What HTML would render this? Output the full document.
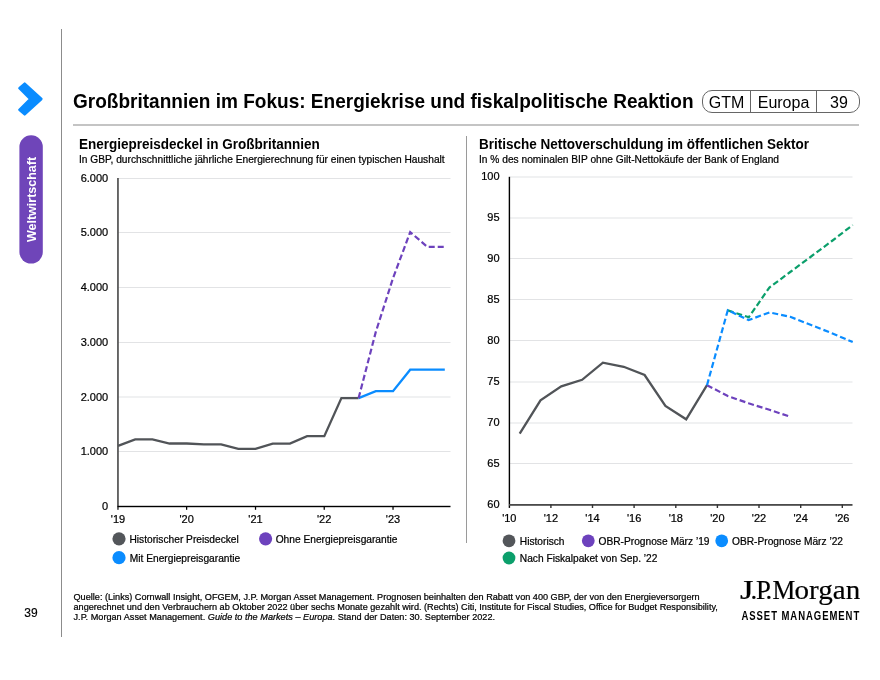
<!DOCTYPE html>
<html><head><meta charset="utf-8">
<style>
html,body{margin:0;padding:0;background:#fff;}
body{width:880px;height:680px;overflow:hidden;position:relative;font-family:"Liberation Sans",sans-serif;}
svg{position:absolute;left:0;top:0;will-change:transform;}
text{font-family:"Liberation Sans",sans-serif;fill:#000;}
.th{stroke:#000;stroke-width:0.22px;}
</style></head><body>
<svg width="880" height="680" viewBox="0 0 880 680">
<!-- left vertical rule -->
<rect x="61" y="29" width="1" height="608" fill="#8c8c8c"/>
<!-- chevron -->
<path d="M19.36 88.26 L24.68 83.61 L41.43 99 L24.68 114.39 L19.36 109.74 L30.1 99 Z" fill="#0a8cff" stroke="#0a8cff" stroke-width="2.4" stroke-linejoin="round"/>
<!-- Weltwirtschaft pill -->
<rect x="19.4" y="135.2" width="23.4" height="128.4" rx="11.7" ry="11.7" fill="#6f45b9"/>
<text transform="translate(35.8,199.5) rotate(-90)" text-anchor="middle" font-size="12.5" font-weight="700" style="fill:#fff">Weltwirtschaft</text>

<!-- Title -->
<text x="73" y="107.6" font-size="19.3" font-weight="700" textLength="620.6" lengthAdjust="spacingAndGlyphs">Großbritannien im Fokus: Energiekrise und fiskalpolitische Reaktion</text>
<!-- GTM pill -->
<rect x="702.5" y="90.5" width="157" height="22" rx="9.5" ry="9.5" fill="none" stroke="#666" stroke-width="1"/>
<rect x="750" y="90.5" width="1" height="22" fill="#666"/>
<rect x="816" y="90.5" width="1" height="22" fill="#666"/>
<text x="726.5" y="107.6" font-size="16" text-anchor="middle">GTM</text>
<text x="783.5" y="107.6" font-size="16" text-anchor="middle">Europa</text>
<text x="839" y="107.6" font-size="16" text-anchor="middle">39</text>
<!-- header rule -->
<rect x="73" y="124" width="786" height="2" fill="#c4c4c4"/>

<!-- separator -->
<rect x="466" y="136" width="1" height="407" fill="#9a9a9a"/>

<!-- LEFT CHART -->
<text x="79" y="148.8" font-size="13.8" font-weight="700" textLength="240.8" lengthAdjust="spacingAndGlyphs">Energiepreisdeckel in Großbritannien</text>
<text x="79" y="162.8" class="th" font-size="10.2">In GBP, durchschnittliche jährliche Energierechnung für einen typischen Haushalt</text>
<g fill="#e2e3e5">
<rect x="118" y="178" width="332.5" height="1"/>
<rect x="118" y="232" width="332.5" height="1"/>
<rect x="118" y="287" width="332.5" height="1"/>
<rect x="118" y="342" width="332.5" height="1"/>
<rect x="118" y="396.5" width="332.5" height="1"/>
<rect x="118" y="451" width="332.5" height="1"/>
</g>
<g class="th" font-size="11" text-anchor="end">
<text x="108.2" y="182">6.000</text>
<text x="108.2" y="236">5.000</text>
<text x="108.2" y="291">4.000</text>
<text x="108.2" y="346">3.000</text>
<text x="108.2" y="401">2.000</text>
<text x="108.2" y="455">1.000</text>
<text x="108.2" y="510">0</text>
</g>
<g class="th" font-size="11" text-anchor="middle">
<text x="118" y="522.8">'19</text>
<text x="186.7" y="522.8">'20</text>
<text x="255.5" y="522.8">'21</text>
<text x="324.2" y="522.8">'22</text>
<text x="393" y="522.8">'23</text>
</g>
<!-- axes -->
<rect x="117.1" y="178" width="1.7" height="331.8" fill="#525252"/>
<rect x="117.5" y="505.8" width="333" height="1.4" fill="#000"/>
<g fill="#000">
<rect x="186" y="506" width="1.25" height="3.8"/>
<rect x="254.9" y="506" width="1.25" height="3.8"/>
<rect x="323.6" y="506" width="1.25" height="3.8"/>
<rect x="392.4" y="506" width="1.25" height="3.8"/>
</g>
<!-- series -->
<polyline fill="none" stroke="#515458" stroke-width="2.3" stroke-linejoin="miter" points="118,445.8 135.2,439.4 152.4,439.4 169.6,443.5 186.75,443.5 203.9,444.3 221.1,444.3 238.3,448.9 255.5,448.9 272.7,443.6 289.9,443.6 307.1,436.1 324.3,436.1 341.4,398.1 358.6,398.1"/>
<polyline fill="none" stroke="#0a8cff" stroke-width="2.3" points="358.6,398.1 375.8,391.2 393,391.2 410.2,369.7 427.4,369.7 444.8,369.7"/>
<polyline fill="none" stroke="#6d42bd" stroke-width="2.2" stroke-dasharray="6 3" points="358.6,398.1 375.8,331.9 393,278.2 410.2,232.1 427.4,246.9 444.6,246.9"/>

<!-- legend left -->
<circle cx="119" cy="538.8" r="6.6" fill="#53565a"/>
<circle cx="119" cy="557.7" r="6.6" fill="#0a8cff"/>
<circle cx="265.6" cy="538.8" r="6.6" fill="#6d42bd"/>
<g class="th" font-size="10.2">
<text x="129.5" y="543">Historischer Preisdeckel</text>
<text x="129.8" y="561.8">Mit Energiepreisgarantie</text>
<text x="275.7" y="543">Ohne Energiepreisgarantie</text>
</g>

<!-- RIGHT CHART -->
<text x="479" y="148.8" font-size="13.8" font-weight="700" textLength="330.05" lengthAdjust="spacingAndGlyphs">Britische Nettoverschuldung im öffentlichen Sektor</text>
<text x="479" y="162.8" class="th" font-size="10.2">In % des nominalen BIP ohne Gilt-Nettokäufe der Bank of England</text>
<g fill="#e2e3e5">
<rect x="510" y="176.5" width="342.5" height="1"/>
<rect x="510" y="217.5" width="342.5" height="1"/>
<rect x="510" y="258" width="342.5" height="1"/>
<rect x="510" y="299" width="342.5" height="1"/>
<rect x="510" y="340" width="342.5" height="1"/>
<rect x="510" y="381.5" width="342.5" height="1"/>
<rect x="510" y="422.5" width="342.5" height="1"/>
<rect x="510" y="463" width="342.5" height="1"/>
</g>
<g class="th" font-size="11" text-anchor="end">
<text x="499.6" y="180">100</text>
<text x="499.6" y="221">95</text>
<text x="499.6" y="262">90</text>
<text x="499.6" y="303">85</text>
<text x="499.6" y="344">80</text>
<text x="499.6" y="385">75</text>
<text x="499.6" y="426">70</text>
<text x="499.6" y="467">65</text>
<text x="499.6" y="508">60</text>
</g>
<g class="th" font-size="11" text-anchor="middle">
<text x="509.3" y="521.6">'10</text>
<text x="550.9" y="521.6">'12</text>
<text x="592.5" y="521.6">'14</text>
<text x="634.1" y="521.6">'16</text>
<text x="675.8" y="521.6">'18</text>
<text x="717.4" y="521.6">'20</text>
<text x="759" y="521.6">'22</text>
<text x="800.7" y="521.6">'24</text>
<text x="842.3" y="521.6">'26</text>
</g>
<rect x="508.7" y="176.8" width="1.4" height="331.1" fill="#000"/>
<rect x="509" y="504" width="343.5" height="1.8" fill="#4a4a4a"/>
<g fill="#333">
<rect x="550.2" y="504.5" width="1.4" height="3.5"/>
<rect x="591.8" y="504.5" width="1.4" height="3.5"/>
<rect x="633.4" y="504.5" width="1.4" height="3.5"/>
<rect x="675.1" y="504.5" width="1.4" height="3.5"/>
<rect x="716.7" y="504.5" width="1.4" height="3.5"/>
<rect x="758.3" y="504.5" width="1.4" height="3.5"/>
<rect x="800" y="504.5" width="1.4" height="3.5"/>
<rect x="841.6" y="504.5" width="1.4" height="3.5"/>
</g>
<polyline fill="none" stroke="#515458" stroke-width="2.3" points="519.7,433.7 540.5,400.3 561.3,386.4 582.1,379.8 602.9,362.7 623.7,366.8 644.6,375 665.4,405.9 686.2,419.3 707,385.2"/>
<polyline fill="none" stroke="#6d42bd" stroke-width="2.2" stroke-dasharray="6 3" points="707,385.2 727.8,396 748.6,403.3 769.4,409.8 789,416.3"/>
<polyline fill="none" stroke="#0b9f6b" stroke-width="2.2" stroke-dasharray="6 3" points="727.8,310.4 748.8,317.2 769.4,287.5 790.2,272 811.1,256.5 831.9,241 852.7,225"/>
<polyline fill="none" stroke="#0a8cff" stroke-width="2.2" stroke-dasharray="6 3" points="707,385.2 727.8,310.2 748.6,320.1 769.4,312.4 790.2,316.8 811.1,325 831.9,333.2 852.7,342"/>

<!-- legend right -->
<circle cx="509" cy="540.8" r="6.4" fill="#53565a"/>
<circle cx="588.3" cy="540.8" r="6.4" fill="#6d42bd"/>
<circle cx="721.7" cy="540.8" r="6.4" fill="#0a8cff"/>
<circle cx="509" cy="558" r="6.4" fill="#0b9f6b"/>
<g class="th" font-size="10.2">
<text x="519.8" y="545">Historisch</text>
<text x="598.5" y="545">OBR-Prognose März ’19</text>
<text x="732" y="545">OBR-Prognose März ’22</text>
<text x="519.8" y="561.8">Nach Fiskalpaket von Sep. ’22</text>
</g>

<!-- footer -->
<text x="24.3" y="617" font-size="12" style="stroke:#000;stroke-width:0.15px">39</text>
<g class="th" font-size="9.15">
<text x="73.5" y="599.8">Quelle: (Links) Cornwall Insight, OFGEM, J.P. Morgan Asset Management. Prognosen beinhalten den Rabatt von 400 GBP, der von den Energieversorgern</text>
<text x="73.5" y="609.8">angerechnet und den Verbrauchern ab Oktober 2022 über sechs Monate gezahlt wird. (Rechts) Citi, Institute for Fiscal Studies, Office for Budget Responsibility,</text>
<text x="73.5" y="619.8" letter-spacing="0.018">J.P. Morgan Asset Management. <tspan font-style="italic">Guide to the Markets – Europa</tspan>. Stand der Daten: 30. September 2022.</text>
</g>
<!-- logo -->
<g style="font-family:'Liberation Serif',serif" fill="#000" stroke="#000" stroke-width="0.2">
<text transform="translate(740,599) scale(1.3,1)" font-size="26.7" style="font-family:'Liberation Serif',serif">J</text>
<text x="750.5" y="599" font-size="26.7" style="font-family:'Liberation Serif',serif">.</text>
<text x="756" y="599" font-size="26.7" style="font-family:'Liberation Serif',serif">P</text>
<text x="765.5" y="599" font-size="26.7" style="font-family:'Liberation Serif',serif">.</text>
<text transform="translate(772.4,599) scale(0.96,1)" font-size="26.7" style="font-family:'Liberation Serif',serif">M</text>
<text x="794.6" y="599" font-size="28" textLength="65.6" lengthAdjust="spacingAndGlyphs" style="font-family:'Liberation Serif',serif">organ</text>
</g>
<text transform="translate(741.5,619.5) scale(0.78,1)" font-size="12.2" font-weight="700" textLength="150.9" lengthAdjust="spacing">ASSET MANAGEMENT</text>
</svg>
</body></html>
